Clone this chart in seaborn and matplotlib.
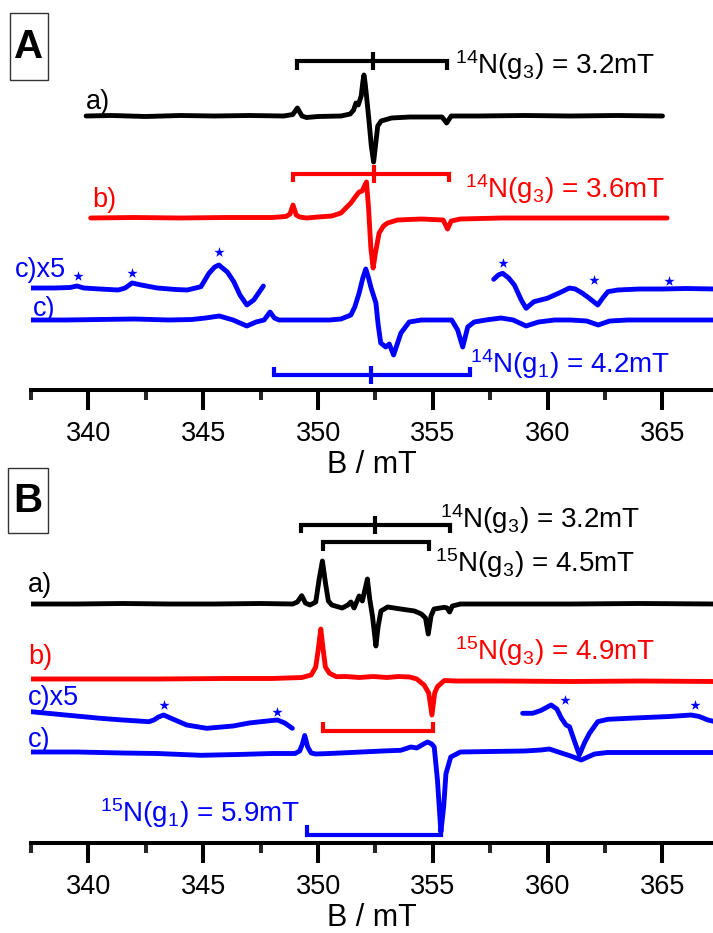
import matplotlib
matplotlib.use("Agg")
import matplotlib.pyplot as plt
from matplotlib.patches import Rectangle
from matplotlib.ticker import MultipleLocator
import numpy as np
import seaborn as sns

# ---- panel A: 14N samples (field in mT, intensity in a.u.) ----
A_A_FIELD = [339.9, 341.0, 342.5, 344.0, 345.5, 347.0, 348.5, 348.9, 349.1, 349.3, 349.5, 350.0,
             351.0, 351.4, 351.55, 351.65, 351.75, 351.88, 351.95, 352.0, 352.05, 352.12, 352.22,
             352.32, 352.42, 352.5, 352.6, 352.75, 353.2, 354.0, 355.4, 355.6, 355.8, 357.0, 359.0,
             361.0, 363.0, 365.0]
A_A_INT = [0, 0.5, -0.5, 0.5, 0, 0.5, 0, 1.5, 8, 0, -1.5, -0.5,
           0, 2, 6, 13, 11, 20, 34, 41, 33, 18, -5,
           -30, -46, -30, -10, -5, -2, -1, -1, -7, 0, 0, 0.5,
           0, 0.5, 0]

A_B_FIELD = [340.1, 342.0, 344.0, 346.0, 348.0, 348.6, 348.78, 348.91, 349.05, 349.2, 349.5, 350.0,
             350.6, 351.0, 351.43, 351.65, 351.79, 351.92, 352.0, 352.11, 352.2, 352.3, 352.4, 352.5,
             352.66, 352.85, 353.03, 353.46, 354.5, 355.45, 355.64, 355.8, 356.2, 358.0, 360.0, 362.0, 365.2]
A_B_INT = [0, 0.5, 0, 0.5, 0.5, 1.5, 4, 13, 3, 1, 0, 1,
           2, 5, 15, 22, 26, 27, 31, 36, 10, -30, -50, -35,
           -15, -8, -5, -2, -1, -2, -11, -3, -1, 0, 0, 0, 0]

A_C_FIELD = [337.5, 339.0, 340.5, 342.0, 343.5, 344.5, 345.1, 345.7, 346.3, 346.9, 347.3, 347.65,
             347.91, 348.1, 348.3, 349.5, 350.5, 351.0, 351.43, 351.6, 351.79, 351.95, 352.08, 352.2,
             352.3, 352.52, 352.62, 352.73, 352.95, 353.1, 353.29, 353.45, 353.61, 353.97, 354.5, 355.0,
             355.82, 356.08, 356.3, 356.52, 356.8, 357.3, 357.97, 358.5, 359.06, 359.6, 360.3, 361.0,
             361.7, 362.2, 362.7, 363.5, 365.0, 367.3]
A_C_INT = [0, 0, 0.5, 1, 0, 0.5, 2, 4, 0, -6, -2, 0,
           8, 2, 0, 0, 0, 1, 5, 13, 27, 42, 51, 42,
           33, 17, -5, -23, -27, -24, -35, -24, -13, -2, 0, 0,
           0, -10, -27, -7, -2, 0, 2, 0, -6, -2, 0, 0,
           -1, -5, -1, 0, 0, 0]

A_C5L_FIELD = [337.5, 338.5, 339.2, 339.5, 339.8, 340.5, 341.3, 341.6, 341.9, 342.3, 343.0, 343.8,
               344.3, 344.9, 345.25, 345.5, 345.68, 346.05, 346.33, 346.6, 346.9, 347.2, 347.62]
A_C5L_INT = [0, 0, 0.5, 2, 0, -1, -2, 0, 5, 3, 0, -1.5,
             -2, 1.3, 14.7, 21, 23, 16, 6.3, -7, -17, -12, 2]
A_C5R_FIELD = [357.65, 357.85, 358.04, 358.3, 358.55, 358.85, 359.06, 359.4, 359.98, 360.5, 360.95,
               361.2, 361.5, 361.8, 362.18, 362.4, 362.62, 363.05, 364.0, 365.0, 366.0, 367.3]
A_C5R_INT = [8.7, 13, 14.7, 10, 3, -12, -20.3, -13.7, -10.3, -5, 0,
             -1, -5, -10, -17, -10, -3.7, -2, -1, -1, -0.5, -1]
A_STAR_FIELD = [339.53, 341.9, 345.7, 358.05, 362.0, 365.28]
A_STAR_INT = [12, 15.3, 36.3, 25.3, 8, 7]

A_STICK_BLACK = [349.1, 352.4, 355.6]
A_STICK_RED = [348.9, 352.45, 355.7]
A_STICK_BLUE = [348.1, 352.3, 356.6]

# ---- panel B: 15N samples ----
B_A_FIELD = [337.5, 339.5, 341.5, 343.5, 345.5, 347.5, 348.9, 349.1, 349.29, 349.45, 349.65, 349.9,
             350.05, 350.19, 350.33, 350.45, 350.6, 351.05, 351.3, 351.43, 351.57, 351.79, 351.93,
             352.05, 352.15, 352.25, 352.37, 352.52, 352.62, 352.74, 353.03, 353.6, 354.2, 354.5,
             354.68, 354.8, 354.92, 355.05, 355.5, 355.62, 355.73, 355.85, 356.2, 358.0, 361.0, 364.0, 367.3]
B_A_INT = [0, 0, 0.5, 0, 0, 0.5, 0, 2, 8.3, 1, -1, 2,
           25, 43, 20, 3, -1, -4, -1, 2, -4, 8, 3,
           15, 25, 5, -12, -42, -22, -7, -3, -5, -7, -10,
           -14, -30, -12, -5, -3.3, -4, -8, -2, 0, 0, 0, 0.5, 0]

B_B_FIELD = [337.5, 340.0, 343.0, 346.0, 348.0, 349.3, 349.7, 349.9, 350.0, 350.12, 350.22, 350.32,
             350.5, 350.8, 351.2, 351.8, 352.4, 353.0, 353.5, 354.0, 354.3, 354.62, 354.82, 354.96,
             355.08, 355.2, 355.5, 356.0, 358.0, 361.0, 364.0, 367.3]
B_B_INT = [0, 0, 0, 0.5, 0.5, 1.5, 4, 12, 28, 50, 30, 12,
           5.7, 2.3, 2.5, 1.5, 2.5, 1.5, 2.5, 2, 0, -6, -14, -36,
           -14, -7.7, -1.5, -2, -2, -2.5, -2, -2.5]

B_C_FIELD = [337.5, 339.5, 341.5, 343.0, 344.9, 346.5, 348.0, 349.0, 349.2, 349.32, 349.42, 349.55,
             349.7, 349.9, 350.5, 351.9, 352.8, 353.6, 354.04, 354.3, 354.62, 354.77, 354.95, 355.06,
             355.2, 355.35, 355.47, 355.57, 355.78, 356.2, 357.5, 359.0, 359.71, 360.07, 360.6, 361.0,
             361.46, 362.04, 362.6, 364.0, 367.3]
B_C_INT = [0, 0, -1, -1.5, -3.3, -2.5, -1.5, -1.5, 1, 8, 16.5, 5,
           -1, -2, -1.5, 0, 1, 1.7, 5, 4, 8.3, 10, 8, 5,
           -28, -80, -55, -21.7, -5, 0, 0.5, 1, 2, 3, -1, -4,
           -8, -2, -0.5, -0.5, -0.5]

B_C5L_FIELD = [337.5, 339.0, 340.52, 341.5, 342.63, 342.85, 343.05, 343.28, 343.57, 344.28, 345.15,
               346.3, 347.0, 347.5, 348.0, 348.23, 348.55, 348.88]
B_C5L_INT = [0.3, -3, -6.3, -8, -9.7, -8, -5, -3, -6, -13, -16.3,
             -14, -11, -9.7, -8.5, -8, -11, -16.3]
B_C5R_FIELD = [358.91, 359.35, 359.7, 360.15, 360.4, 360.6, 360.8, 360.95, 361.15, 361.38, 361.6,
               361.82, 362.18, 362.62, 364.07, 365.3, 366.25, 366.6, 366.98, 367.3]
B_C5R_INT = [-1.3, -1.3, 1.5, 7, 3, -6.3, -13, -14.7, -28, -43, -31,
             -21.3, -9.7, -7.3, -5.7, -4.5, -3, -4.5, -8, -9.7]
B_STAR_FIELD = [343.3, 348.2, 360.76, 366.4]
B_STAR_INT = [7, 0.3, 12, 7]

B_STICK_BLACK14 = [349.25, 352.5, 355.75]
B_STICK_BLACK15 = [350.2, 354.85]
B_STICK_RED15 = [350.23, 354.99]
B_STICK_BLUE15 = [349.5, 355.35]

MAJOR_TICKS = [340, 345, 350, 355, 360, 365]

sns.set_theme(style="white")
plt.rcParams["font.family"] = ["Liberation Sans", "DejaVu Sans"]
plt.rcParams["mathtext.fontset"] = "custom"
plt.rcParams["mathtext.rm"] = "Liberation Sans"
plt.rcParams["mathtext.it"] = "Liberation Sans:italic"
plt.rcParams["mathtext.bf"] = "Liberation Sans:bold"
plt.rcParams["mathtext.default"] = "regular"

BLACK, RED, BLUE = "#000000", "#ff0000", "#0000ff"
LW = 3.5
STICK_LW = 3.0
W, H = 713, 933

fig = plt.figure(figsize=(W / 100, H / 100), dpi=100)
fig.patch.set_facecolor("white")


def trace(ax, field, inten, base, color):
    sns.lineplot(x=field, y=np.asarray(inten, dtype=float) + base, ax=ax, color=color,
                 lw=LW, estimator=None, sort=False, legend=False)


def stick(ax, pos, level, drop, color):
    lo, hi = pos[0], pos[-1]
    ax.plot([lo, lo, hi, hi], [level + drop, level, level, level + drop], color=color,
            lw=STICK_LW, solid_joinstyle="miter", solid_capstyle="butt")
    if len(pos) == 3:
        ax.plot([pos[1], pos[1]], [level - 9, level + 9], color=color, lw=STICK_LW,
                solid_capstyle="butt")


def stars(ax, field, inten, base):
    sns.scatterplot(x=field, y=np.asarray(inten, dtype=float) + base, ax=ax, marker="*",
                    s=60, color=BLUE, edgecolor=BLUE, linewidth=0, legend=False)


def setup(ax):
    ax.set_xlim(337.5, 367.2)
    ax.set_ylim(0, 390)
    ax.set_facecolor("none")
    sns.despine(ax=ax, left=True)
    ax.spines["bottom"].set_linewidth(2.9)
    ax.spines["bottom"].set_color("black")
    ax.set_yticks([])
    ax.set_xticks(MAJOR_TICKS)
    ax.xaxis.set_minor_locator(MultipleLocator(2.5))
    ax.tick_params(axis="x", which="major", bottom=True, direction="out", length=14.4,
                   width=2.9, labelsize=19.5, pad=8, colors="black")
    ax.tick_params(axis="x", which="minor", bottom=True, direction="out", length=7.2,
                   width=2.9)
    ax.set_xlabel("B / mT", fontsize=22, labelpad=2, color="black")
    ax.set_ylabel("")


ANN = 20
LAB = 19.5

# ---------- panel A ----------
ax_a = fig.add_axes([31 / W, 1 - 390 / H, 682 / W, 390 / H])
setup(ax_a)
trace(ax_a, A_A_FIELD, A_A_INT, 274, BLACK)
trace(ax_a, A_B_FIELD, A_B_INT, 172, RED)
trace(ax_a, A_C_FIELD, A_C_INT, 70, BLUE)
trace(ax_a, A_C5L_FIELD, A_C5L_INT, 102, BLUE)
trace(ax_a, A_C5R_FIELD, A_C5R_INT, 102, BLUE)
stars(ax_a, A_STAR_FIELD, A_STAR_INT, 102)
stick(ax_a, A_STICK_BLACK, 329, -9, BLACK)
stick(ax_a, A_STICK_RED, 216, -8, RED)
stick(ax_a, A_STICK_BLUE, 15, 8.5, BLUE)

ax_a.text(339.9, 288, "a)", color=BLACK, fontsize=LAB, ha="left", va="center")
ax_a.text(340.16, 190, "b)", color=RED, fontsize=LAB, ha="left", va="center")
ax_a.text(336.8, 120, "c)x5", color=BLUE, fontsize=LAB, ha="left", va="center", clip_on=False)
ax_a.text(337.6, 81, "c)", color=BLUE, fontsize=LAB, ha="left", va="center")
ax_a.text(355.96, 316, r"$^{14}$N(g$_3$) = 3.2mT", color=BLACK, fontsize=ANN, ha="left", va="baseline")
ax_a.text(356.4, 191.7, r"$^{14}$N(g$_3$) = 3.6mT", color=RED, fontsize=ANN, ha="left", va="baseline")
ax_a.text(356.6, 17, r"$^{14}$N(g$_1$) = 4.2mT", color=BLUE, fontsize=ANN, ha="left", va="baseline")

# ---------- panel B ----------
ax_b = fig.add_axes([31 / W, 1 - 843 / H, 682 / W, 390 / H])
setup(ax_b)
trace(ax_b, B_A_FIELD, B_A_INT, 239, BLACK)
trace(ax_b, B_B_FIELD, B_B_INT, 164, RED)
trace(ax_b, B_C_FIELD, B_C_INT, 91, BLUE)
trace(ax_b, B_C5L_FIELD, B_C5L_INT, 131, BLUE)
trace(ax_b, B_C5R_FIELD, B_C5R_INT, 131, BLUE)
stars(ax_b, B_STAR_FIELD, B_STAR_INT, 131)
stick(ax_b, B_STICK_BLACK14, 318, -8, BLACK)
stick(ax_b, B_STICK_BLACK15, 301, -9, BLACK)
stick(ax_b, B_STICK_RED15, 112, 9, RED)
stick(ax_b, B_STICK_BLUE15, 8, 10, BLUE)

ax_b.text(337.38, 258, "a)", color=BLACK, fontsize=LAB, ha="left", va="center", clip_on=False)
ax_b.text(337.38, 186, "b)", color=RED, fontsize=LAB, ha="left", va="center", clip_on=False)
ax_b.text(337.38, 145, "c)x5", color=BLUE, fontsize=LAB, ha="left", va="center", clip_on=False)
ax_b.text(337.38, 103, "c)", color=BLUE, fontsize=LAB, ha="left", va="center", clip_on=False)
ax_b.text(355.31, 315, r"$^{14}$N(g$_3$) = 3.2mT", color=BLACK, fontsize=ANN, ha="left", va="baseline")
ax_b.text(355.09, 271.3, r"$^{15}$N(g$_3$) = 4.5mT", color=BLACK, fontsize=ANN, ha="left", va="baseline")
ax_b.text(355.96, 183, r"$^{15}$N(g$_3$) = 4.9mT", color=RED, fontsize=ANN, ha="left", va="baseline")
ax_b.text(340.5, 21.3, r"$^{15}$N(g$_1$) = 5.9mT", color=BLUE, fontsize=ANN, ha="left", va="baseline")

# panel letters in boxes
for letter, (x0, y0, x1, y1) in [("A", (10, 13, 48, 80)), ("B", (8, 468, 48, 533))]:
    fig.add_artist(Rectangle((x0 / W, 1 - y1 / H), (x1 - x0) / W, (y1 - y0) / H,
                             transform=fig.transFigure, fill=False, ec="#333333", lw=1))
    fig.text((x0 + x1) / 2 / W, 1 - (y0 + y1) / 2 / H, letter, fontsize=29,
             fontweight="bold", ha="center", va="center", color="black")

fig.savefig("out.png", dpi=100)
